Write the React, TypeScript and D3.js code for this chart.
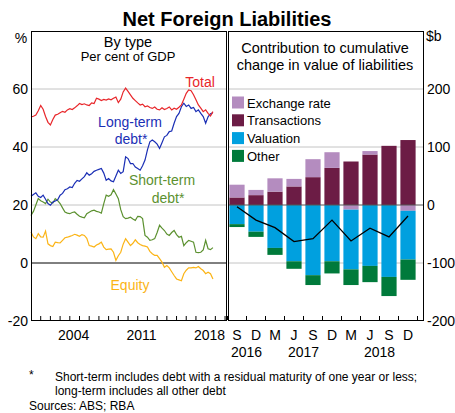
import * as d3 from 'd3';

// ---------------------------------------------------------------------------
// Data
// ---------------------------------------------------------------------------

// Left panel: net foreign liabilities by type, per cent of GDP,
// quarterly from Mar 2000 to Sep 2018
const firstYear = 2000;
const quarterStep = 0.25;

const totalLiab = [
	50.4, 50.6, 51.0, 52.5, 54.3, 53.0, 50.5, 48.5, 47.6, 49.5,
	51.0, 51.3, 51.8, 52.3, 52.0, 52.8, 53.2, 52.9, 53.5, 54.2,
	55.0, 54.6, 54.9, 54.5, 54.3, 55.2, 55.0, 56.8, 56.5, 56.0,
	56.4, 56.2, 56.6, 56.3, 56.8, 57.2, 55.3, 56.5, 59.0, 60.3,
	59.2, 58.0, 56.8, 56.0, 55.2, 54.5, 54.8, 53.9, 54.2, 53.6,
	53.3, 53.8, 53.0, 52.8, 53.5, 52.9, 53.3, 53.8, 52.8, 53.4,
	53.0, 53.7, 54.5, 56.5, 58.5, 59.7, 59.4, 58.0, 56.3, 54.5,
	53.4, 52.2, 52.8, 51.6, 50.7, 52.2,
];
const longTermDebt = [
	23.0, 23.6, 24.2, 23.0, 22.6, 23.4, 22.0, 20.5, 19.9, 21.0,
	21.4, 21.8, 23.4, 24.0, 25.3, 25.6, 26.2, 26.0, 27.5, 28.5,
	28.2, 29.0, 29.8, 31.1, 30.3, 30.8, 31.6, 32.0, 32.3, 32.6,
	31.0, 28.5, 29.1, 28.3, 28.0, 30.0, 32.0, 30.9, 31.5, 36.6,
	36.0, 34.3, 34.3, 33.1, 32.6, 32.0, 33.5, 35.5, 39.0, 41.8,
	42.4, 41.8, 41.0, 39.5, 41.5, 43.5, 44.0, 45.3, 45.5, 48.2,
	50.5, 51.6, 53.9, 55.1, 54.0, 54.5, 53.3, 53.6, 52.2, 52.8,
	51.6, 50.5, 48.2, 50.4, 51.5, 51.8,
];
const shortTermDebt = [
	16.4, 17.8, 20.0, 22.2, 21.5, 21.0, 20.5, 22.0, 21.0, 20.7,
	22.2, 21.5, 20.5, 19.0, 17.6, 17.2, 17.0, 17.4, 17.6, 16.8,
	16.1, 15.8, 15.6, 17.0, 17.5, 18.0, 18.2, 17.8, 17.6, 17.2,
	20.5, 23.4, 23.0, 23.5, 25.3, 23.8, 22.2, 18.4, 16.0, 15.3,
	15.5, 15.8, 15.2, 14.7, 16.1, 16.0, 15.3, 9.5, 8.9, 7.8,
	8.0, 8.4, 10.5, 13.0, 12.0, 11.2, 10.0, 9.5, 10.5, 11.2,
	9.8, 8.9, 9.2, 6.0, 7.0, 7.8, 7.5, 7.2, 3.7, 3.6,
	3.7, 4.5, 7.8, 4.9, 4.6, 5.3,
];
const equity = [
	10.7, 9.0, 8.4, 10.1, 9.0, 8.9, 11.0, 6.6, 6.0, 5.7,
	7.2, 7.0, 6.9, 7.8, 8.7, 8.9, 9.2, 9.5, 9.9, 9.6,
	9.2, 9.8, 9.5, 8.5, 6.0, 5.8, 5.5, 6.2, 6.6, 7.2,
	5.5, 4.6, 4.8, 4.9, 3.7, 0.9, 2.5, 3.7, 6.5, 8.4,
	7.2, 6.0, 6.8, 8.0, 7.0, 6.4, 6.0, 5.8, 5.5, 4.0,
	3.2, 2.6, 2.6, 1.5, 0.3, -1.5, -0.9, -1.7, -3.0, -4.3,
	-5.5, -5.8, -6.1, -3.7, -2.5, -1.7, -1.7, -1.5, -1.7, -1.2,
	-2.0, -2.6, -3.7, -3.2, -3.7, -5.5,
];
const leftYearLabels = [2004, 2011, 2018];
const leftTicks = [-20, 0, 20, 40, 60];

// Right panel: contribution to cumulative change in value of liabilities, $b
const quarterLabels = ['S', 'D', 'M', 'J', 'S', 'D', 'M', 'J', 'S', 'D'];
const quarterYearLabels = [
	{ year: '2016', first: 0, last: 1 },
	{ year: '2017', first: 2, last: 5 },
	{ year: '2018', first: 6, last: 9 },
];
const exchangeRate = [22, 9, 23, 13, 31, 27, -8, 6, 0, -10];
const transactions = [13, 17, 23, 32, 48, 64, 75, 87, 102, 112];
const valuation = [-33, -46, -74, -97, -121, -97, -103, -105, -124, -84];
const other = [-5, -9, -12, -13, -17, -21, -27, -28, -33, -35];
const netChange = [-3, -26, -39, -63, -58, -26, -62, -40, -55, -19];
const rightTicks = [-200, -100, 0, 100, 200];

// ---------------------------------------------------------------------------
// Layout / style
// ---------------------------------------------------------------------------

const W = 455;
const H = 413;
const TOP = 31;
const BOTTOM = 321;
const L0 = 31;
const L1 = 227;
const R0 = 228;
const R1 = 424;
const FONT = 'Arial, "Liberation Sans", Helvetica, sans-serif';

const C = {
	total: '#e8262a',
	longTerm: '#1b2fb5',
	shortTerm: '#5c9130',
	equity: '#fbb416',
	exch: '#b48cbf',
	trans: '#6c1c45',
	val: '#00a0df',
	other: '#007a3b',
	grid: '#c4c4c4',
};

const SERIES = [
	{ key: 'exch', name: 'Exchange rate', color: C.exch, values: exchangeRate },
	{ key: 'trans', name: 'Transactions', color: C.trans, values: transactions },
	{ key: 'val', name: 'Valuation', color: C.val, values: valuation },
	{ key: 'other', name: 'Other', color: C.other, values: other },
];

export default function App() {
	const x = d3.scaleLinear().domain([firstYear, 2020.2]).range([L0, L1]);
	const yL = d3.scaleLinear().domain([-20, 80]).range([BOTTOM, TOP]);
	const yR = d3.scaleLinear().domain([-200, 300]).range([BOTTOM, TOP]);
	const band = d3
		.scaleBand<number>()
		.domain(d3.range(quarterLabels.length))
		.range([227.5, 417.5])
		.paddingInner(0.2)
		.paddingOuter(0.1);

	const line = d3
		.line<number>()
		.x((_, i) => x(firstYear + i * quarterStep))
		.y((d) => yL(d));

	const netLine = d3
		.line<number>()
		.x((_, i) => (band(i) as number) + band.bandwidth() / 2)
		.y((d) => yR(d));

	// stack: positives go up from zero, negatives go down in series order
	const bars: { key: string; x: number; y0: number; y1: number; color: string }[] = [];
	quarterLabels.forEach((_, i) => {
		let pos = 0;
		let neg = 0;
		for (const s of [SERIES[1], SERIES[0], SERIES[2], SERIES[3]]) {
			const v = s.values[i];
			if (v === 0) continue;
			if (v > 0) {
				bars.push({ key: `${s.key}-${i}`, x: band(i) as number, y0: pos, y1: pos + v, color: s.color });
				pos += v;
			} else {
				bars.push({ key: `${s.key}-${i}`, x: band(i) as number, y0: neg + v, y1: neg, color: s.color });
				neg += v;
			}
		}
	});

	const years = d3.range(2001, 2021);
	const bandEdges = d3.range(quarterLabels.length + 1).map((k) => 227.5 + k * band.step());

	return (
		<div style={{ position: 'absolute', left: 0, top: 0 }}>
			<svg width={W} height={H} style={{ display: 'block', fontFamily: FONT }}>
				<rect width={W} height={H} fill="#fff" />
				<text x={227} y={26} textAnchor="middle" fontSize={20} fontWeight="bold">
					Net Foreign Liabilities
				</text>

				{/* gridlines */}
				{leftTicks.slice(2).map((t) => (
					<line key={`gl${t}`} x1={L0} x2={L1} y1={yL(t)} y2={yL(t)} stroke={C.grid} strokeWidth={1} />
				))}
				{rightTicks.filter((t) => t !== 0 && t !== -200).map((t) => (
					<line key={`gr${t}`} x1={R0} x2={R1} y1={yR(t)} y2={yR(t)} stroke={C.grid} strokeWidth={1} />
				))}

				{/* left panel lines */}
				<line x1={L0} x2={L1} y1={yL(0)} y2={yL(0)} stroke="#000" strokeWidth={1} />
				<path d={line(equity) ?? ''} fill="none" stroke={C.equity} strokeWidth={1.2} />
				<path d={line(shortTermDebt) ?? ''} fill="none" stroke={C.shortTerm} strokeWidth={1.2} />
				<path d={line(longTermDebt) ?? ''} fill="none" stroke={C.longTerm} strokeWidth={1.2} />
				<path d={line(totalLiab) ?? ''} fill="none" stroke={C.total} strokeWidth={1.2} />

				{/* right panel bars */}
				{bars.map((b) => (
					<rect
						key={b.key}
						x={b.x}
						width={band.bandwidth()}
						y={yR(b.y1)}
						height={yR(b.y0) - yR(b.y1)}
						fill={b.color}
					/>
				))}
				<line x1={R0} x2={R1} y1={yR(0)} y2={yR(0)} stroke="#555" strokeWidth={1} />
				<path d={netLine(netChange) ?? ''} fill="none" stroke="#000" strokeWidth={1.3} />

				{/* frames */}
				<rect x={L0 + 0.5} y={TOP + 0.5} width={L1 - L0 - 1} height={BOTTOM - TOP - 1} fill="none" stroke="#000" />
				<rect x={R0 + 0.5} y={TOP + 0.5} width={R1 - R0 - 1} height={BOTTOM - TOP - 1} fill="none" stroke="#000" />

				{/* x ticks */}
				{years.map((yr) => (
					<line key={`xt${yr}`} x1={x(yr)} x2={x(yr)} y1={BOTTOM - 1} y2={BOTTOM - 5} stroke="#000" />
				))}
				{bandEdges.map((e, k) => (
					<line key={`bt${k}`} x1={e} x2={e} y1={BOTTOM - 1} y2={BOTTOM - 5} stroke="#000" />
				))}

				{/* axis labels */}
				<g fontSize={14} fill="#000">
					<text x={21} y={43} textAnchor="middle">%</text>
					<text x={426} y={41}>$b</text>
					{leftTicks.map((t) => (
						<text key={`yl${t}`} x={28} y={yL(t) + 5} textAnchor="end">{t}</text>
					))}
					{rightTicks.map((t) => (
						<text key={`yr${t}`} x={427} y={yR(t) + 5}>{t}</text>
					))}
					{leftYearLabels.map((yr) => (
						<text key={`yx${yr}`} x={x(yr + 0.5) - 1} y={340} textAnchor="middle">{yr}</text>
					))}
					{quarterLabels.map((q, i) => (
						<text key={`q${i}`} x={(band(i) as number) + band.bandwidth() / 2} y={340} textAnchor="middle">{q}</text>
					))}
					{quarterYearLabels.map((g) => (
						<text
							key={g.year}
							x={((band(g.first) as number) + (band(g.last) as number) + band.bandwidth()) / 2}
							y={357}
							textAnchor="middle"
						>
							{g.year}
						</text>
					))}
				</g>

				{/* panel titles */}
				<text x={128} y={47} textAnchor="middle" fontSize={14.5}>By type</text>
				<text x={128} y={61} textAnchor="middle" fontSize={13}>Per cent of GDP</text>
				<text x={325} y={53} textAnchor="middle" fontSize={14.5}>Contribution to cumulative</text>
				<text x={325} y={70} textAnchor="middle" fontSize={14.5}>change in value of liabilities</text>

				{/* series labels */}
				<g fontSize={14}>
					<text x={200} y={87} textAnchor="middle" fill={C.total}>Total</text>
					<text x={130} y={127} textAnchor="middle" fill={C.longTerm}>Long-term</text>
					<text x={131} y={144} textAnchor="middle" fill={C.longTerm}>debt*</text>
					<text x={162} y={185} textAnchor="middle" fill={C.shortTerm}>Short-term</text>
					<text x={168} y={203} textAnchor="middle" fill={C.shortTerm}>debt*</text>
					<text x={130} y={290} textAnchor="middle" fill={C.equity}>Equity</text>
				</g>

				{/* legend */}
				{SERIES.map((s, k) => (
					<g key={s.key} transform={`translate(232, ${96.5 + k * 17.8})`}>
						<rect width={12} height={12} fill={s.color} />
						<text x={15} y={11} fontSize={13}>{s.name}</text>
					</g>
				))}

				{/* footnotes */}
				<g fontSize={12}>
					<text x={29} y={379}>*</text>
					<text x={55} y={381}>Short-term includes debt with a residual maturity of one year or less;</text>
					<text x={55} y={395}>long-term includes all other debt</text>
					<text x={29} y={410}>Sources: ABS; RBA</text>
				</g>
			</svg>
		</div>
	);
}
